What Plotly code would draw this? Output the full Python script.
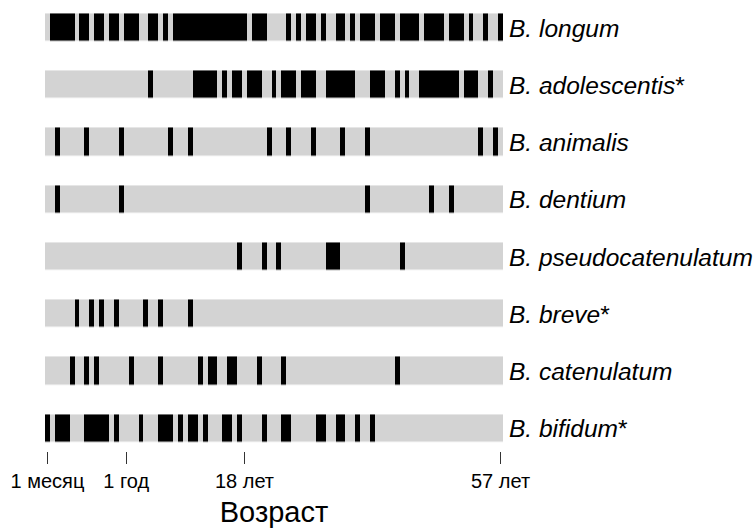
import plotly.graph_objects as go

# Species (top to bottom)
species = ["B. longum", "B. adolescentis", "B. animalis", "B. dentium",
           "B. pseudocatenulatum", "B. breve", "B. catenulatum", "B. bifidum"]
starred = [False, True, False, False, False, True, False, True]

n_samples = 93  # samples ordered by age

# Sample indices (0-based) where each species was detected
longum = [1, 2, 3, 4, 5, 7, 8, 10, 11, 13, 14, 16, 17, 18, 21, 22, 24,
          26, 27, 28, 29, 30, 31, 32, 33, 34, 35, 36, 37, 38, 39, 40,
          42, 43, 44, 49, 51, 53, 54, 56, 59, 60, 62, 64, 65, 66, 68, 69, 70,
          72, 73, 74, 75, 77, 78, 79, 80, 82, 83, 84, 86, 89, 92]
adolescentis = [21, 30, 31, 32, 33, 34, 36, 38, 39, 41, 42, 43, 46, 48, 49, 50,
                52, 53, 54, 57, 58, 59, 60, 61, 62, 66, 67, 68, 71, 73,
                76, 77, 78, 79, 80, 81, 82, 83, 85, 86, 87, 90]
animalis = [2, 8, 15, 25, 29, 45, 49, 54, 60, 65, 88, 91]
dentium = [2, 15, 65, 78, 82]
pseudocatenulatum = [39, 44, 47, 57, 58, 59, 72]
breve = [6, 9, 11, 14, 20, 23, 29]
catenulatum = [5, 8, 10, 17, 23, 31, 33, 34, 37, 38, 43, 48, 71]
bifidum = [0, 2, 3, 4, 8, 9, 10, 11, 12, 14, 19, 23, 24, 25, 27, 29, 30, 32,
           36, 37, 39, 44, 48, 49, 55, 56, 59, 60, 63, 66]

presence = [longum, adolescentis, animalis, dentium,
            pseudocatenulatum, breve, catenulatum, bifidum]

# Age axis tick labels at sample positions
tick_samples = [0, 16, 40, 92]
tick_labels = ["1 месяц", "1 год", "18 лет", "57 лет"]

# Build matrix: row 0 = bottom (B. bifidum)
rows = list(reversed(presence))
names = list(reversed(species))
stars = list(reversed(starred))
z = [[1 if i in r else 0 for i in range(n_samples)] for r in rows]
ylabels = [f"<i>{n}</i>" + ("*" if s else "") for n, s in zip(names, stars)]

fig = go.Figure(go.Heatmap(
    z=z,
    x=list(range(n_samples)),
    y=list(range(len(rows))),
    colorscale=[[0, "#d3d3d3"], [1, "#000000"]],
    zmin=0, zmax=1,
    showscale=False,
    ygap=29.7,
    hoverinfo="skip",
))

fig.update_layout(
    width=755, height=530,
    margin=dict(l=45, r=252, t=0, b=79),
    paper_bgcolor="white", plot_bgcolor="white",
    font=dict(family="Arial, Liberation Sans, sans-serif", color="#000"),
    xaxis=dict(
        range=[-0.5, n_samples - 0.5],
        tickmode="array", tickvals=tick_samples, ticktext=tick_labels,
        ticks="outside", ticklen=12, tickwidth=1, tickcolor="#333",
        showgrid=False, zeroline=False, showline=False,
        tickfont=dict(size=20),
        title=dict(text="Возраст", font=dict(size=29), standoff=10),
    ),
    yaxis=dict(
        range=[-0.39, 7.49],
        side="right",
        tickmode="array", tickvals=list(range(len(rows))), ticktext=ylabels,
        ticks="", showgrid=False, zeroline=False, showline=False,
        tickfont=dict(size=24.5),
        ticklabelstandoff=5,
    ),
)

fig.write_html("out.html")
